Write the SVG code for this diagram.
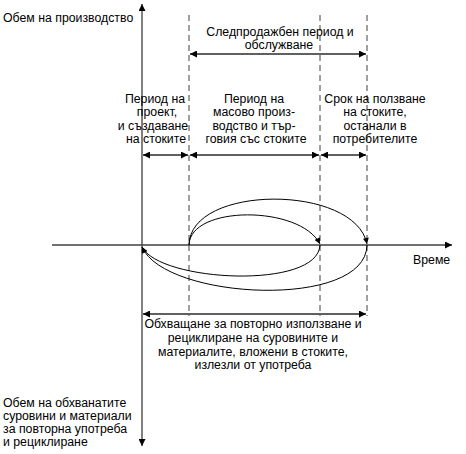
<svg xmlns="http://www.w3.org/2000/svg" width="466" height="454" viewBox="0 0 466 454">
<style>
  text { font-family: "Liberation Sans", Arial, sans-serif; font-size: 12.3px; fill: #000; }
  .c { text-anchor: middle; }
  .axisv { stroke: #808080; stroke-width: 2; fill: none; }
  .axish { stroke: #404040; stroke-width: 1.5; fill: none; }
  .dash { stroke: #404040; stroke-width: 1; stroke-dasharray: 6 4; fill: none; }
  .dim { stroke: #606060; stroke-width: 2; fill: none; }
  .curve { stroke: #000; stroke-width: 1; fill: none; }
</style>
<defs>
  <marker id="ah" viewBox="0 0 10 10" refX="10" refY="5" markerWidth="9" markerHeight="7" markerUnits="userSpaceOnUse" orient="auto-start-reverse">
    <path d="M0,0 L10,5 L0,10 z" fill="#000"/>
  </marker>
  <marker id="ahc" viewBox="0 0 10 10" refX="10" refY="5" markerWidth="8" markerHeight="6" markerUnits="userSpaceOnUse" orient="auto">
    <path d="M0,0 L10,5 L0,10 z" fill="#000"/>
  </marker>
</defs>
<g id="connectors">
  <line class="axisv" x1="142" y1="446" x2="142" y2="4" marker-start="url(#ah)" marker-end="url(#ah)"/>
  <line class="axish" x1="52" y1="245" x2="452" y2="245" marker-end="url(#ah)"/>
  <line class="dash" x1="189" y1="15" x2="189" y2="316"/>
  <line class="dash" x1="320" y1="15" x2="320" y2="316"/>
  <line class="dash" x1="367" y1="15" x2="367" y2="316"/>
  <line class="dim" x1="190" y1="54" x2="366" y2="54" marker-start="url(#ah)" marker-end="url(#ah)"/>
  <line class="dim" x1="143" y1="155" x2="188" y2="155" marker-start="url(#ah)" marker-end="url(#ah)"/>
  <line class="dim" x1="190" y1="155" x2="319" y2="155" marker-start="url(#ah)" marker-end="url(#ah)"/>
  <line class="dim" x1="321" y1="155" x2="366" y2="155" marker-start="url(#ah)" marker-end="url(#ah)"/>
  <line class="dim" x1="143" y1="314" x2="366" y2="314" marker-start="url(#ah)" marker-end="url(#ah)"/>
  <path class="curve" d="M189,245 C190,205 300,205 320,244" marker-end="url(#ahc)"/>
  <path class="curve" d="M189,245 C190,184 355,184 367,244" marker-end="url(#ahc)"/>
  <path class="curve" d="M320,245 C318,290 160,282 142,247" marker-end="url(#ahc)"/>
  <path class="curve" d="M367,245 C366,310 165,300 142,247" marker-end="url(#ahc)"/>
</g>
<g id="label-production">
  <text x="3" y="22">Обем на производство</text>
</g>
<g id="label-time">
  <text x="413" y="264">Време</text>
</g>
<g id="label-aftersales">
  <text class="c" x="280" y="36">Следпродажбен период и</text>
  <text class="c" x="279" y="49">обслужване</text>
</g>
<g id="label-design">
  <text class="c" x="155" y="102.5">Период на</text>
  <text class="c" x="157" y="116">проект,</text>
  <text class="c" x="153" y="129.5">и създаване</text>
  <text class="c" x="156" y="143">на стоките</text>
</g>
<g id="label-mass">
  <text class="c" x="254" y="102.5">Период на</text>
  <text class="c" x="254" y="116">масово произ-</text>
  <text class="c" x="254" y="129.5">водство и тър-</text>
  <text class="c" x="256" y="143">говия със стоките</text>
</g>
<g id="label-use">
  <text class="c" x="375" y="102.5">Срок на ползване</text>
  <text class="c" x="375" y="116">на стоките,</text>
  <text class="c" x="375" y="129.5">останали в</text>
  <text class="c" x="375" y="143">потребителите</text>
</g>
<g id="label-recycling">
  <text class="c" x="253" y="328">Обхващане за повторно използване и</text>
  <text class="c" x="253" y="342">рециклиране на суровините и</text>
  <text class="c" x="253" y="355.5">материалите, вложени в стоките,</text>
  <text class="c" x="253" y="369">излезли от употреба</text>
</g>
<g id="label-volume">
  <text x="3" y="407">Обем на обхванатите</text>
  <text x="3" y="420">суровини и материали</text>
  <text x="3" y="433">за повторна употреба</text>
  <text x="3" y="446">и рециклиране</text>
</g>
</svg>
